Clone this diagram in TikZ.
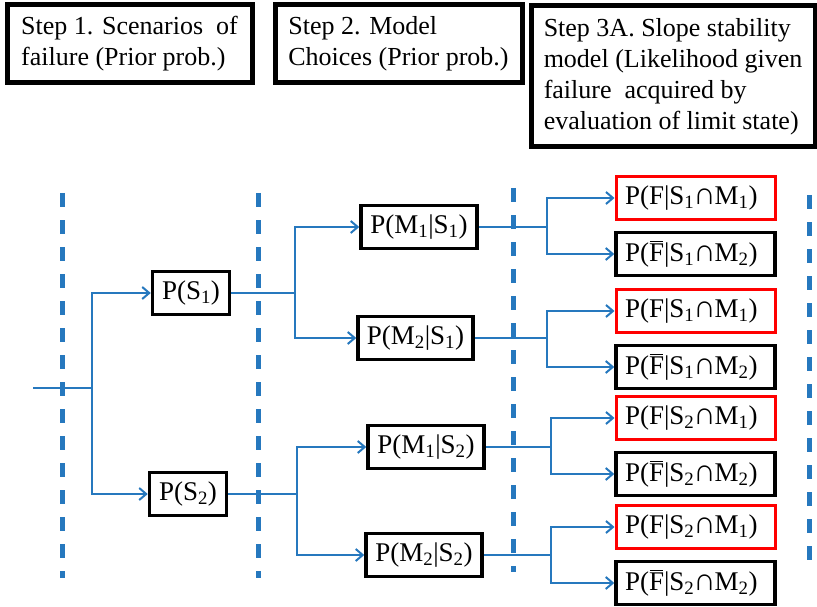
\documentclass[tikz,border=0pt]{standalone}
\usepackage{fontspec}
\usepackage{graphicx}
\setmainfont{Liberation Serif}
\usetikzlibrary{arrows.meta}
\definecolor{lineblue}{RGB}{38,120,190}
\newcommand\sub[1]{\textsubscript{#1}}
\newcommand\inter{\hspace{-0.04em}\scalebox{1.15}{∩}\hspace{-0.04em}}
\newcommand\Fbar{\leavevmode\rlap{\hspace{0.03em}\raisebox{0.72em}{\rule{0.5em}{0.055em}}}F}
\begin{document}
\begin{tikzpicture}[x=1pt,y=-1pt,
 hdr/.style={draw=black,line width=5pt,align=left,font=\fontsize{26}{31}\selectfont,inner sep=0pt},
 pbox/.style={draw=black,line width=3.5pt,font=\fontsize{27}{32}\selectfont,minimum height=43pt,inner sep=0pt},
 fbox/.style={pbox,text width=141pt,align=left,inner xsep=9pt},
 redbox/.style={fbox,draw=red,line width=3pt},
 conn/.style={draw=lineblue,line width=2.2pt},
 arr/.style={conn,-{Straight Barb[length=7pt,width=12pt,line width=2pt]}},
 divider/.style={draw=lineblue,line width=5pt,dash pattern=on 14pt off 13pt}]
\useasboundingbox (0,0) rectangle (817,607);

% dashed dividers
\coordinate (d1t) at (62,193); \coordinate (d1b) at (62,578);
\coordinate (d2t) at (258,193); \coordinate (d2b) at (258,578);
\coordinate (d3t) at (513,188); \coordinate (d3b) at (513,572);
\coordinate (d4t) at (809,195); \coordinate (d4b) at (809,572);
\draw[divider] (d1t) -- (d1b);
\draw[divider] (d2t) -- (d2b);
\draw[divider] (d3t) -- (d3b);
\draw[divider] (d4t) -- (d4b);

% headers
\node[hdr,minimum width=245pt,minimum height=78pt] (h1) at (129.5,44) {Step 1. Scenarios\hspace{0.5em}of\\failure (Prior prob.)};
\node[hdr,minimum width=247pt,minimum height=78pt] (h2) at (398.5,44) {Step 2. Model\\Choices (Prior prob.)};
\node[hdr,minimum width=284pt,minimum height=141pt] (h3) at (673,76.5) {Step 3A. Slope stability\\model (Likelihood given\\failure~ acquired by\\evaluation of limit state)};

% tree nodes
\node[pbox,minimum width=77pt] (s1) at (191,293) {P(S\sub1)};
\node[pbox,minimum width=77pt] (s2) at (188,494) {P(S\sub2)};
\node[pbox,minimum width=116pt] (m11) at (419,227) {P(M\sub1|S\sub1)};
\node[pbox,minimum width=115pt] (m21) at (415.5,338) {P(M\sub2|S\sub1)};
\node[pbox,minimum width=116pt] (m12) at (426,447) {P(M\sub1|S\sub2)};
\node[pbox,minimum width=116pt] (m22) at (424,555) {P(M\sub2|S\sub2)};

\node[redbox] (f1) at (695.5,198) {P(F|S\sub1\inter M\sub1)};
\node[fbox]   (f2) at (695.5,254) {P(\Fbar|S\sub1\inter M\sub2)};
\node[redbox] (f3) at (695.5,311) {P(F|S\sub1\inter M\sub1)};
\node[fbox]   (f4) at (695.5,367) {P(\Fbar|S\sub1\inter M\sub2)};
\node[redbox] (f5) at (695.5,418) {P(F|S\sub2\inter M\sub1)};
\node[fbox]   (f6) at (695.5,474) {P(\Fbar|S\sub2\inter M\sub2)};
\node[redbox] (f7) at (695.5,527) {P(F|S\sub2\inter M\sub1)};
\node[fbox]   (f8) at (695.5,583) {P(\Fbar|S\sub2\inter M\sub2)};

% junctions
\coordinate (in) at (33,388);
\coordinate (j0) at (92,388);
\coordinate (j1) at (295,293);
\coordinate (j2) at (297,494);
\coordinate (k11) at (547,227);
\coordinate (k21) at (547,338);
\coordinate (k12) at (551,447);
\coordinate (k22) at (551,555);

% connectors
\draw[conn] (in) -- (j0);
\draw[arr] (j0) |- (s1.west);
\draw[arr] (j0) |- (s2.west);
\draw[conn] (s1.east) -- (j1);
\draw[arr] (j1) |- (m11.west);
\draw[arr] (j1) |- (m21.west);
\draw[conn] (s2.east) -- (j2);
\draw[arr] (j2) |- (m12.west);
\draw[arr] (j2) |- (m22.west);
\draw[conn] (m11.east) -- (k11);
\draw[arr] (k11) |- (f1.west);
\draw[arr] (k11) |- (f2.west);
\draw[conn] (m21.east) -- (k21);
\draw[arr] (k21) |- (f3.west);
\draw[arr] (k21) |- (f4.west);
\draw[conn] (m12.east) -- (k12);
\draw[arr] (k12) |- (f5.west);
\draw[arr] (k12) |- (f6.west);
\draw[conn] (m22.east) -- (k22);
\draw[arr] (k22) |- (f7.west);
\draw[arr] (k22) |- (f8.west);
\end{tikzpicture}
\end{document}
